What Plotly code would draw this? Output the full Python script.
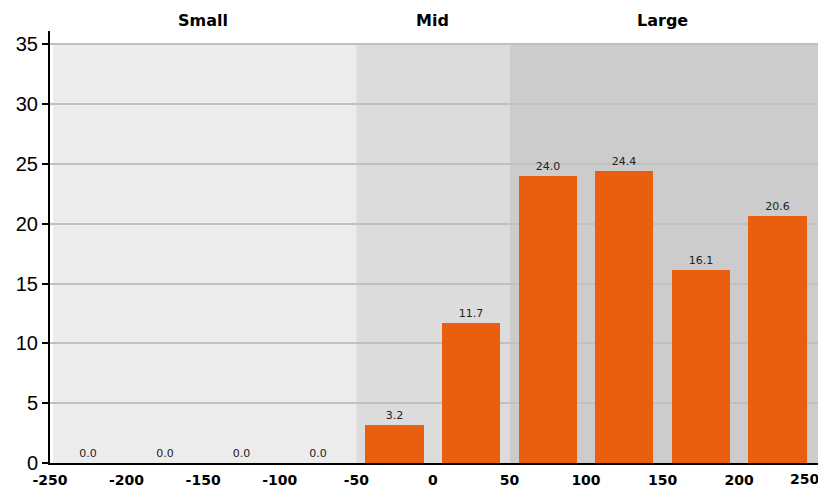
import plotly.graph_objects as go

# ---- data ----
bin_centers = [-225, -175, -125, -75, -25, 25, 75, 125, 175, 225]
values = [0.0, 0.0, 0.0, 0.0, 3.2, 11.7, 24.0, 24.4, 16.1, 20.6]
x_ticks = [-250, -200, -150, -100, -50, 0, 50, 100, 150, 200, 250]
y_ticks = [0, 5, 10, 15, 20, 25, 30, 35]

band_names = ["Small", "Mid", "Large"]
band_edges = [-248, -50, 50, 251.5]
band_centers = [-150, 0, 150]
band_colors = ["#ececec", "#dcdcdc", "#cccccc"]

fig = go.Figure()

# ---- achtergrondbanden + labels ----
for i, name in enumerate(band_names):
    fig.add_shape(type="rect", xref="x", yref="y",
                  x0=band_edges[i], x1=band_edges[i + 1], y0=0, y1=35,
                  fillcolor=band_colors[i], line_width=0, layer="below")
    fig.add_annotation(x=band_centers[i], y=1, yref="paper",
                       yanchor="bottom", yshift=-1,
                       text="<b>" + name + "</b>", showarrow=False,
                       font=dict(size=16, color="black", family="DejaVu Sans"))

# ---- staven ----
fig.add_trace(go.Bar(
    x=bin_centers, y=values, width=38,
    marker=dict(color="#e95e0f", line=dict(width=0)),
    text=[f"{v:.1f}" for v in values], textposition="outside",
    textfont=dict(size=11, color="#222", family="DejaVu Sans"),
    cliponaxis=False, hovertemplate="%{x}: %{y}<extra></extra>"
))

# laatste x-label past niet aan de rand, dus als annotatie rechts uitgelijnd
tick_text = [f"<b>{t}</b>" for t in x_ticks]
tick_text[-1] = ""
fig.add_annotation(x=1, xref="paper", xanchor="right", xshift=3,
                   y=0, yref="paper", yanchor="middle", yshift=-16,
                   text=f"<b>{x_ticks[-1]}</b>", showarrow=False,
                   font=dict(size=14, color="black", family="DejaVu Sans"))

fig.update_xaxes(range=[-250, 251.5], tickvals=x_ticks, ticktext=tick_text,
                 tickfont=dict(size=14, color="black", family="DejaVu Sans"),
                 showgrid=False, zeroline=False, automargin=False,
                 ticklabeloverflow="allow",
                 showline=True, linecolor="black", linewidth=2,
                 ticks="", ticklabelstandoff=3)
fig.update_yaxes(range=[0, 36.1], tickvals=y_ticks,
                 tickfont=dict(size=20, color="black", family="Liberation Sans"),
                 showgrid=True, gridcolor="#c0c0c0", gridwidth=1.5,
                 zeroline=False, automargin=False,
                 showline=True, linecolor="black", linewidth=2,
                 ticks="outside", ticklen=6, tickwidth=1.5, tickcolor="black")

# pagina heeft 8px body-marge, dus figuur iets kleiner
fig.update_layout(
    width=818, height=486,
    margin=dict(l=42, r=8, t=23, b=31),
    plot_bgcolor="white", paper_bgcolor="white",
    showlegend=False, bargap=0,
    font=dict(family="DejaVu Sans")
)

fig.write_html("out.html")
